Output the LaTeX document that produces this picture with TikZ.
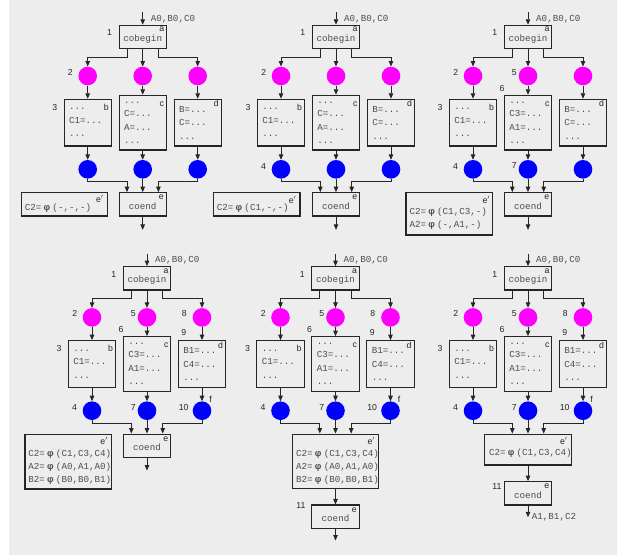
\documentclass[tikz,border=0pt]{standalone}
\usepackage{fontspec}
\setmainfont{Liberation Sans}
\setmonofont{Liberation Mono}
\usetikzlibrary{arrows.meta}

\definecolor{panelgray}{HTML}{EDEDED}
\definecolor{inkline}{HTML}{262626}
\definecolor{codegray}{HTML}{4D4D4D}
\definecolor{forkpink}{HTML}{FF00FF}
\definecolor{joinblue}{HTML}{0000FF}

\newcommand\cfmono{\ttfamily\fontsize{9.2}{13.5}\selectfont}
\newcommand\cflabel{\rmfamily\fontsize{8.7}{10}\selectfont}
\newcommand\phisym{\hspace{2.2pt}{\rmfamily\bfseries φ}\hspace{2.2pt}}
% keyword set a little low in its box, keeping the box size
\newcommand\lowkw[1]{\raisebox{-1.8pt}[\height][\depth]{#1}}

\tikzset{
  wire/.style={draw=inkline, line width=0.9pt},
  arr/.style={wire, -{Triangle[length=5.5pt,width=4.5pt]}},
  cbox/.style={draw=inkline, line width=1.1pt, fill=panelgray, inner sep=0pt,
    minimum width=47.3pt, minimum height=23.3pt, font=\cfmono, text=codegray},
  stmtbox/.style={cbox, minimum height=46.7pt, text width=37.3pt,
    inner xsep=5pt, align=left},
  phibox/.style={cbox, minimum width=86.7pt},
  forkdot/.style={circle, fill=forkpink, minimum size=18.6pt, inner sep=0pt},
  joindot/.style={circle, fill=joinblue, minimum size=18.6pt, inner sep=0pt},
  numtxt/.style={font=\cflabel, text=inkline, inner sep=0pt},
  codetxt/.style={font=\cfmono, text=codegray, inner sep=0pt, anchor=base west},
}

% cobegin, three forked statement blocks and their join dots
% #1 prefix, #2 centre x, #3 top y of cobegin, #4 middle block, #5 right block
\newcommand\forkjoin[5]{%
  \node[cbox] (#1-a) at (#2,#3+11.65) {\lowkw{cobegin}};
  \coordinate (#1-in) at ([shift={(0,-12.3)}]#1-a.north);
  \draw[arr] (#1-in) -- (#1-a.north);
  \node[codetxt] (#1-args) at ([shift={(8,-3.3)}]#1-a.north) {A0,B0,C0};
  \node[numtxt] (#1-ta) at ([shift={(-5.2,4.6)}]#1-a.north east) {a};
  \node[numtxt] (#1-n1) at ([shift={(-9,8.2)}]#1-a.north west) {1};
  \foreach \k/\dx in {1/-55,2/0,3/55} {
    \node[forkdot] (#1-m\k) at (#2+\dx,#3+50.7) {};
    \node[joindot] (#1-u\k) at (#2+\dx,#3+144) {};
  }
  \node[stmtbox] (#1-b) at (#2-55,#3+97.35) {...\\C1=...\\...};
  \node[stmtbox, minimum height=54.7pt] (#1-c) at (#2,#3+97.35) {#4};
  \node[stmtbox] (#1-d) at (#2+55,#3+97.35) {#5};
  \node[numtxt] (#1-tb) at ([shift={(-5.7,8.7)}]#1-b.north east) {b};
  \node[numtxt] (#1-tc) at ([shift={(-5,9)}]#1-c.north east) {c};
  \node[numtxt] (#1-td) at ([shift={(-5.7,5)}]#1-d.north east) {d};
  \node[numtxt] (#1-n2) at ([shift={(-17.3,-3.7)}]#1-m1) {2};
  \node[numtxt] (#1-n3) at ([shift={(-8.75,8.7)}]#1-b.north west) {3};
  \draw[arr] ([xshift=-15.7pt]#1-a.south) -- ++(0,8.1) -| (#1-m1.north);
  \draw[arr] (#1-a.south) -- (#1-m2.north);
  \draw[arr] ([xshift=15.7pt]#1-a.south) -- ++(0,8.1) -| (#1-m3.north);
  \foreach \k/\s in {1/b,2/c,3/d} {
    \draw[arr] (#1-m\k.south) -- (#1-\s.north);
    \draw[arr] (#1-\s.south) -- (#1-u\k.north);
  }
}

% wires from the three join dots into the joining box #1-j
\newcommand\joinwires[1]{%
  \draw[arr] (#1-u1.south) -- ++(0,3.1) -| ([xshift=-15.7pt]#1-j.north);
  \draw[arr] (#1-u2.south) -- (#1-j.north);
  \draw[arr] (#1-u3.south) -- ++(0,3.1) -| ([xshift=15.7pt]#1-j.north);
}

% labels of the later phases
\newcommand\laternums[1]{%
  \node[numtxt] (#1-n4) at ([shift={(-17.5,-3)}]#1-u1) {4};
  \node[numtxt] (#1-n5) at ([shift={(-13.6,-3.8)}]#1-m2) {5};
  \node[numtxt] (#1-n6) at ([shift={(-1.7,-6.7)}]#1-c.north west) {6};
  \node[numtxt] (#1-n7) at ([shift={(-13.6,-3.5)}]#1-u2) {7};
}
\newcommand\rightnums[1]{%
  \node[numtxt] (#1-n8) at ([shift={(-17.6,-3.6)}]#1-m3) {8};
  \node[numtxt] (#1-n9) at ([shift={(6,-7.4)}]#1-d.north west) {9};
  \node[numtxt] (#1-n10) at ([shift={(-18.3,-3.4)}]#1-u3) {10};
  \node[numtxt] (#1-tf) at ([shift={(8.6,-11.4)}]#1-u3) {f};
}

\begin{document}
\begin{tikzpicture}[x=1pt,y=-1pt]
\useasboundingbox (0,0) rectangle (617,555);
\fill[white] (0,0) rectangle (617,555);
\fill[panelgray] (9,0) rectangle (617,555);

% ---------- first step: phi for C2 only ----------
\forkjoin{p1}{142.7}{25.3}{...\\C=...\\A=...\\...}{B=...\\C=...\\...}
\node[cbox] (p1-j) at (142.7,204.35) {\lowkw{coend}};
\joinwires{p1}
\node[numtxt] (p1-te) at ([shift={(-5.5,5.3)}]p1-j.north east) {e};
\coordinate (p1-out) at ([shift={(0,13.3)}]p1-j.south);
\draw[arr] (p1-j.south) -- (p1-out);
\node[cbox, minimum width=86pt] (p1-ep) at (64.3,204.35) {};
\node[codetxt] (p1-l1) at ([shift={(4,18.3)}]p1-ep.north west) {C2=\phisym(-,-,-)};
\node[numtxt] (p1-tep) at ([shift={(-8,6.5)}]p1-ep.north east) {e$'$};

% ---------- second step ----------
\forkjoin{p2}{336}{25.3}{...\\C=...\\A=...\\...}{B=...\\C=...\\...}
\node[cbox] (p2-j) at (336,204.35) {\lowkw{coend}};
\joinwires{p2}
\node[numtxt] (p2-te) at ([shift={(-5.5,5.3)}]p2-j.north east) {e};
\coordinate (p2-out) at ([shift={(0,13.3)}]p2-j.south);
\draw[arr] (p2-j.south) -- (p2-out);
\node[numtxt] (p2-n4) at ([shift={(-17.5,-3)}]p2-u1) {4};
\node[phibox] (p2-ep) at (256.65,204.35) {};
\node[codetxt] (p2-l1) at ([shift={(4,18)}]p2-ep.north west) {C2=\phisym(C1,-,-)};
\node[numtxt] (p2-tep) at ([shift={(-8,7.5)}]p2-ep.north east) {e$'$};

% ---------- third step ----------
\forkjoin{p3}{528}{25.3}{...\\C3=...\\A1=...\\...}{B=...\\C=...\\...}
\node[cbox] (p3-j) at (528,204.35) {\lowkw{coend}};
\joinwires{p3}
\node[numtxt] (p3-te) at ([shift={(-5.5,5.3)}]p3-j.north east) {e};
\coordinate (p3-out) at ([shift={(0,13.3)}]p3-j.south);
\draw[arr] (p3-j.south) -- (p3-out);
\laternums{p3}
\node[cbox, minimum width=86.3pt, minimum height=42.3pt] (p3-ep) at (449.15,213.85) {};
\node[codetxt] (p3-l1) at ([shift={(4,22.3)}]p3-ep.north west) {C2=\phisym(C1,C3,-)};
\node[codetxt] (p3-l2) at ([shift={(4,35.3)}]p3-ep.north west) {A2=\phisym(-,A1,-)};
\node[numtxt] (p3-tep) at ([shift={(-6.5,7.5)}]p3-ep.north east) {e$'$};

% ---------- fourth step: all three branches done ----------
\forkjoin{p4}{147}{266.7}{...\\C3=...\\A1=...\\...}{B1=...\\C4=...\\...}
\node[cbox] (p4-j) at (147,445.75) {\lowkw{coend}};
\joinwires{p4}
\node[numtxt] (p4-te) at ([shift={(-5.5,5.3)}]p4-j.north east) {e};
\coordinate (p4-out) at ([shift={(0,12.6)}]p4-j.south);
\draw[arr] (p4-j.south) -- (p4-out);
\laternums{p4}
\rightnums{p4}
\node[phibox, minimum height=54.7pt] (p4-ep) at (68.35,461.65) {};
\node[codetxt] (p4-l1) at ([shift={(3.8,22.7)}]p4-ep.north west) {C2=\phisym(C1,C3,C4)};
\node[codetxt] (p4-l2) at ([shift={(3.8,36.1)}]p4-ep.north west) {A2=\phisym(A0,A1,A0)};
\node[codetxt] (p4-l3) at ([shift={(3.8,49.1)}]p4-ep.north west) {B2=\phisym(B0,B0,B1)};
\node[numtxt] (p4-tep) at ([shift={(-8,7)}]p4-ep.north east) {e$'$};

% ---------- fifth step: phi block placed before coend ----------
\forkjoin{p5}{335.5}{266.7}{...\\C3=...\\A1=...\\...}{B1=...\\C4=...\\...}
\node[phibox, minimum height=54.2pt] (p5-j) at (335.5,461.2) {};
\joinwires{p5}
\laternums{p5}
\rightnums{p5}
\node[codetxt] (p5-l1) at ([shift={(4.4,22.7)}]p5-j.north west) {C2=\phisym(C1,C3,C4)};
\node[codetxt] (p5-l2) at ([shift={(4.4,36.1)}]p5-j.north west) {A2=\phisym(A0,A1,A0)};
\node[codetxt] (p5-l3) at ([shift={(4.4,49.1)}]p5-j.north west) {B2=\phisym(B0,B0,B1)};
\node[numtxt] (p5-tep) at ([shift={(-8,7)}]p5-j.north east) {e$'$};
\node[cbox] (p5-k) at (335.5,516.65) {\lowkw{coend}};
\draw[arr] (p5-j.south) -- (p5-k.north);
\node[numtxt] (p5-te) at ([shift={(-5.5,5.3)}]p5-k.north east) {e};
\node[numtxt] (p5-n11) at (301,505) {11};
\coordinate (p5-out) at ([shift={(0,11.7)}]p5-k.south);
\draw[arr] (p5-k.south) -- (p5-out);

% ---------- sixth step: only the live phi is kept ----------
\forkjoin{p6}{528}{266.7}{...\\C3=...\\A1=...\\...}{B1=...\\C4=...\\...}
\node[phibox, minimum height=30.9pt] (p6-j) at (528,449.55) {};
\joinwires{p6}
\laternums{p6}
\rightnums{p6}
\node[codetxt] (p6-l1) at ([shift={(4.7,21.9)}]p6-j.north west) {C2=\phisym(C1,C3,C4)};
\node[numtxt] (p6-tep) at ([shift={(-8,7)}]p6-j.north east) {e$'$};
\node[cbox] (p6-k) at (528,493.35) {\lowkw{coend}};
\draw[arr] (p6-j.south) -- (p6-k.north);
\node[numtxt] (p6-te) at ([shift={(-5.5,5.3)}]p6-k.north east) {e};
\node[numtxt] (p6-n11) at (497,486) {11};
\coordinate (p6-out) at ([shift={(0,11.7)}]p6-k.south);
\draw[arr] (p6-k.south) -- (p6-out);
\node[codetxt] (p6-res) at ([shift={(3.7,2.7)}]p6-out) {A1,B1,C2};
\end{tikzpicture}
\end{document}
